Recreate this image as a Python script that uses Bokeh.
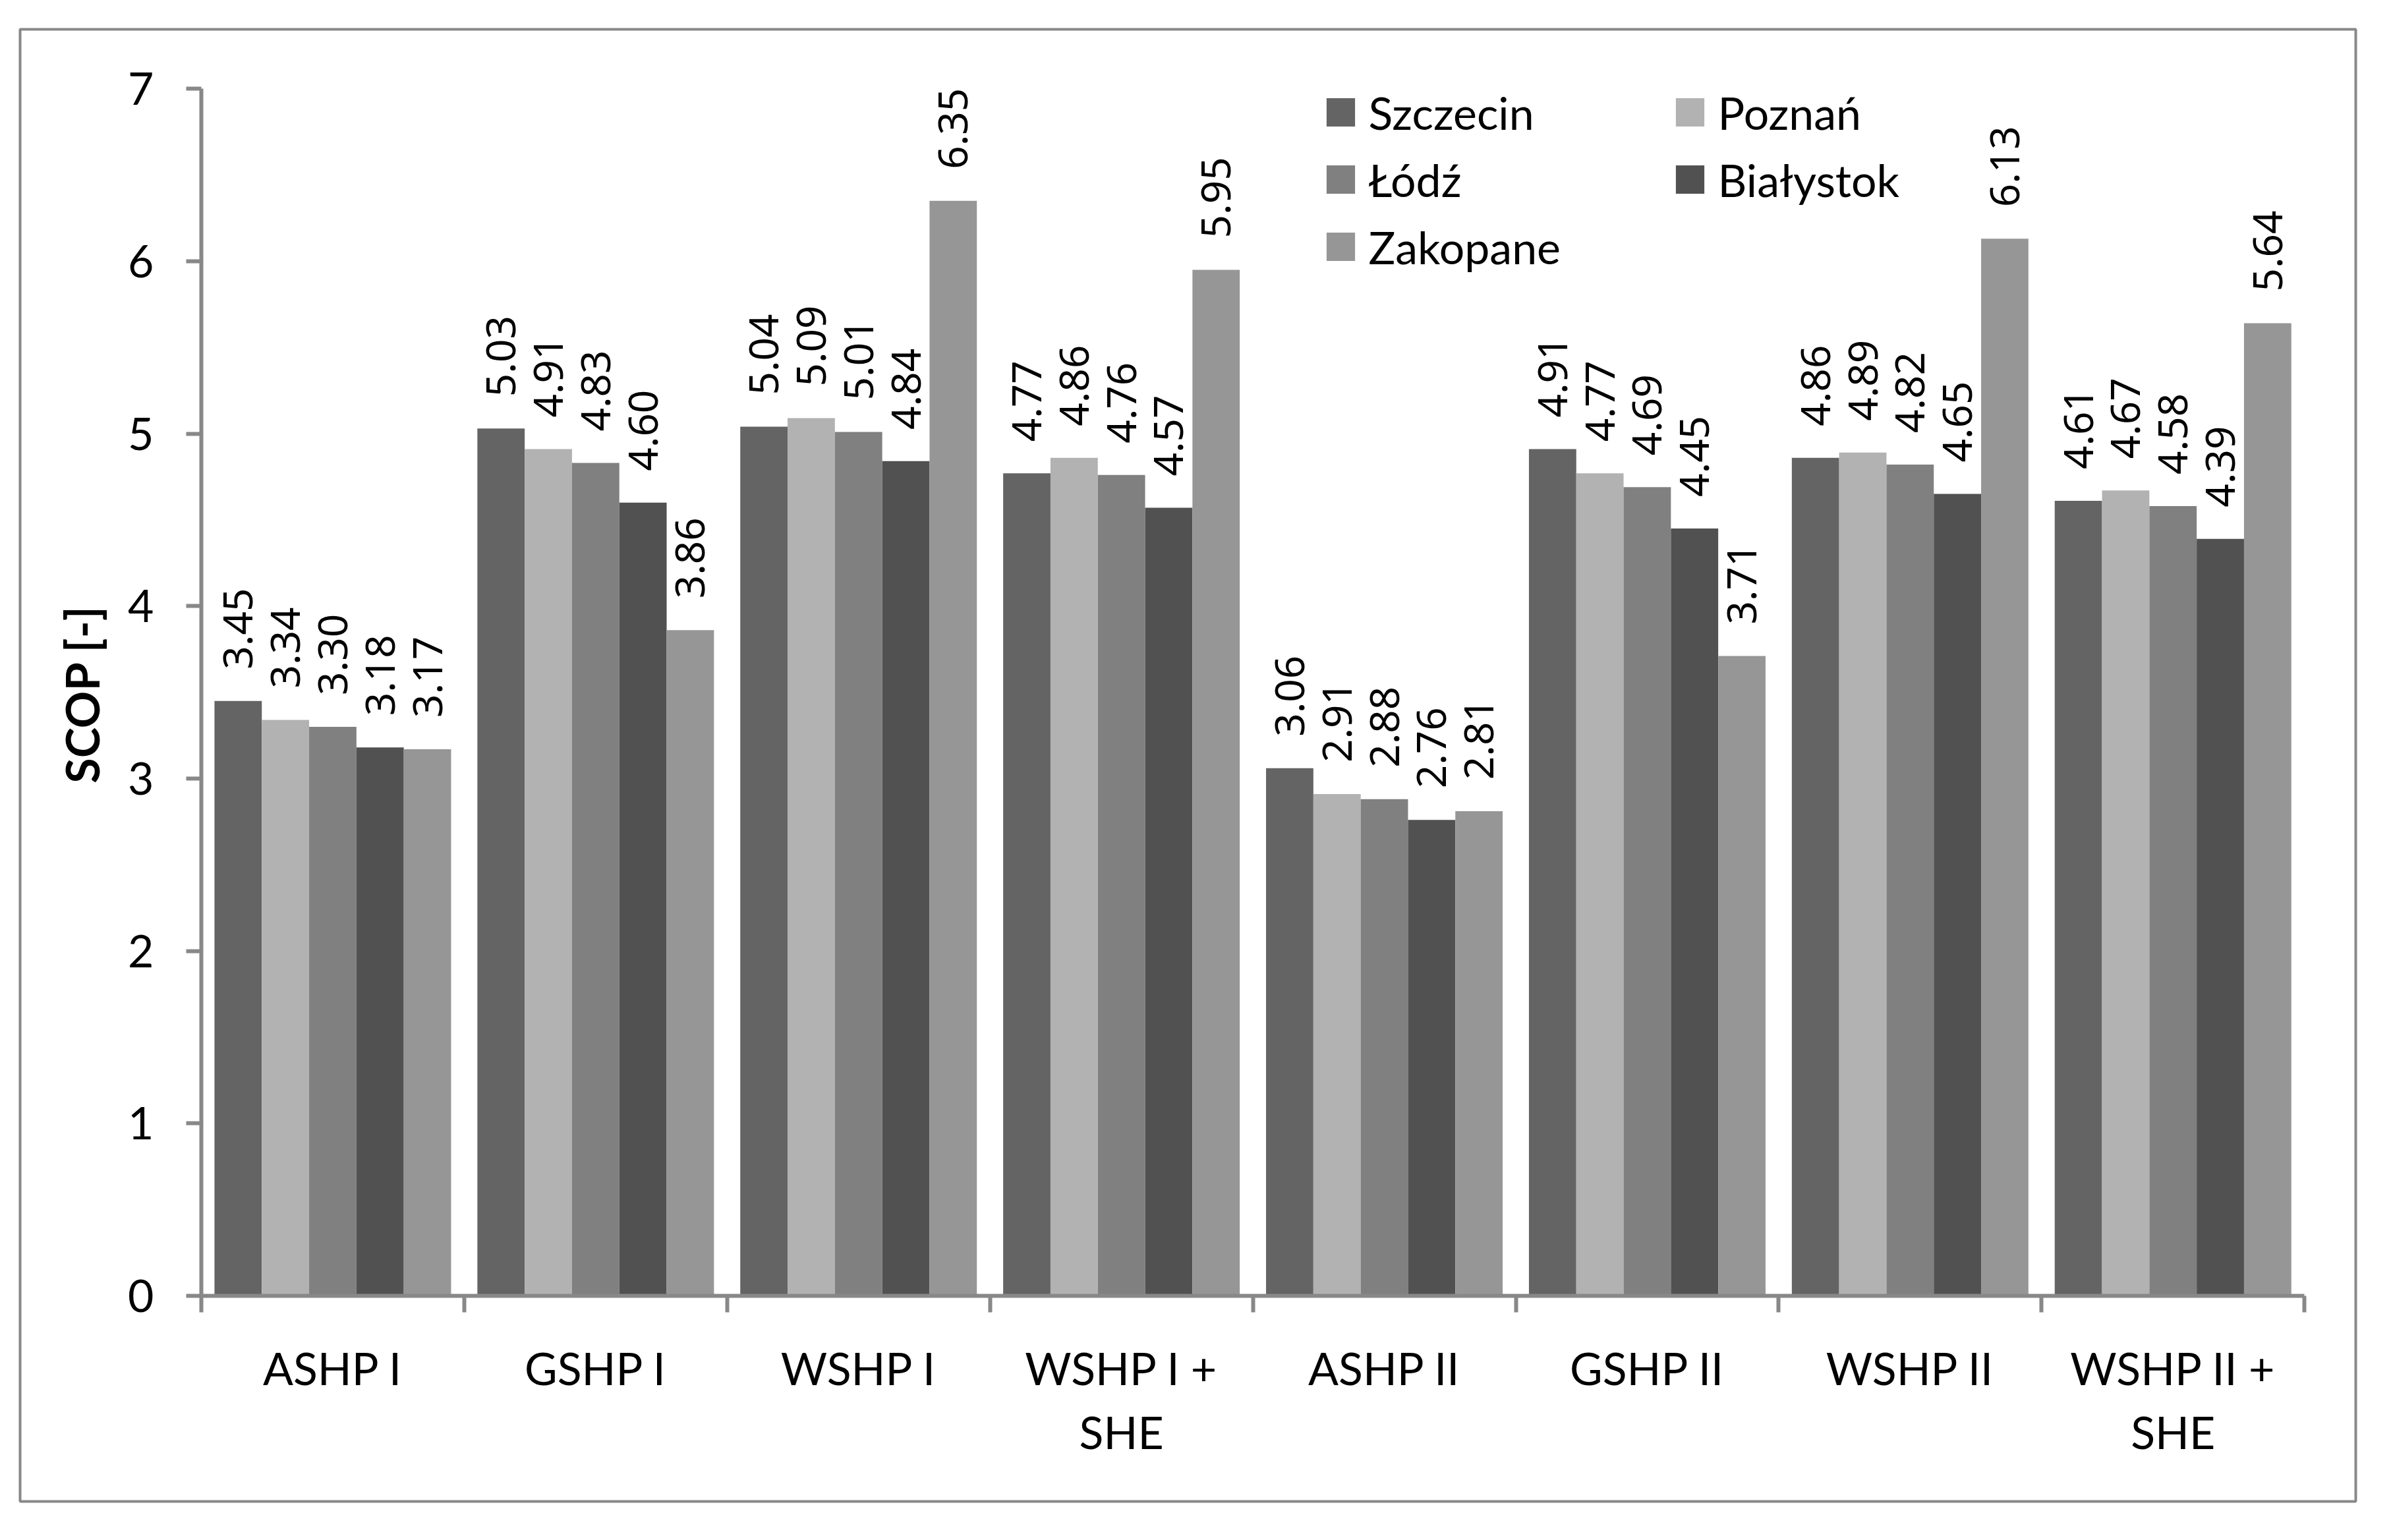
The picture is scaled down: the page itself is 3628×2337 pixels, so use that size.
import numpy as np
from math import pi
from bokeh.plotting import figure
from bokeh.models import (ColumnDataSource, Range1d, LinearAxis, FixedTicker, LabelSet,
                          Label, Legend, LegendItem)
from bokeh.embed import file_html
from bokeh.resources import INLINE
from bokeh.core.properties import value

# ---------------- data ----------------
categories = ["ASHP I", "GSHP I", "WSHP I", "WSHP I +\nSHE",
              "ASHP II", "GSHP II", "WSHP II", "WSHP II +\nSHE"]
series_names = ["Szczecin", "Poznań", "Łódź", "Białystok", "Zakopane"]
szczecin = [3.45, 5.03, 5.04, 4.77, 3.06, 4.91, 4.86, 4.61]
poznan = [3.34, 4.91, 5.09, 4.86, 2.91, 4.77, 4.89, 4.67]
lodz = [3.30, 4.83, 5.01, 4.76, 2.88, 4.69, 4.82, 4.58]
bialystok = [3.18, 4.60, 4.84, 4.57, 2.76, 4.45, 4.65, 4.39]
zakopane = [3.17, 3.86, 6.35, 5.95, 2.81, 3.71, 6.13, 5.64]
y_ticks = [0, 1, 2, 3, 4, 5, 6, 7]
y_label = "SCOP [-]"

series = [szczecin, poznan, lodz, bialystok, zakopane]
colors = ["#646464", "#b2b2b2", "#808080", "#515151", "#969696"]

# ---------------- layout (window pixels) ----------------
PAGE = 0
FL, FT, FR, FB = 30, 44, 3574, 2278      # outer box (frame)
X0, XPER = 305, 398.9                    # x=0 pixel, px per category
Y0, YPER = 1966, 261.7                   # y=0 pixel, px per unit
W, H = 3600, 2310

def dx(px):
    return (px - X0) / XPER

def dy(py):
    return (Y0 - py) / YPER

p = figure(width=W, height=H, output_backend="svg", toolbar_location=None,
           x_range=Range1d(dx(FL), dx(FR)), y_range=Range1d(dy(FB), dy(FT)),
           x_axis_type=None, y_axis_type=None,
           min_border_left=FL - PAGE, min_border_top=FT - PAGE,
           min_border_right=W - (FR - PAGE), min_border_bottom=H - (FB - PAGE))
p.outline_line_color = "#888888"
p.outline_line_width = 4
p.background_fill_color = "white"
p.border_fill_color = "white"

AX = "#888888"
n = len(categories)
idx = np.arange(n)
bw = 0.18

yax = LinearAxis(fixed_location=0, bounds=(0, 7),
                 ticker=FixedTicker(ticks=y_ticks, minor_ticks=[]),
                 axis_line_color=AX, axis_line_width=6,
                 major_tick_line_color=AX, major_tick_line_width=6,
                 major_tick_out=23, major_tick_in=0,
                 minor_tick_line_color=None,
                 major_label_standoff=49,
                 major_label_text_font="Lato", major_label_text_font_size="68px",
                 major_label_text_color="black")
p.add_layout(yax, "left")

xax = LinearAxis(fixed_location=0, bounds=(0, n),
                 ticker=FixedTicker(ticks=list(idx + 0.5), minor_ticks=list(range(n + 1))),
                 axis_line_color=AX, axis_line_width=6,
                 major_tick_line_color=None, major_tick_out=0, major_tick_in=0,
                 minor_tick_line_color=AX, minor_tick_line_width=6,
                 minor_tick_out=25, minor_tick_in=0,
                 major_label_overrides={float(i + 0.5): c for i, c in enumerate(categories)},
                 major_label_standoff=43,
                 major_label_text_font="Lato", major_label_text_font_size="68px",
                 major_label_text_color="black",
                 major_label_text_line_height=1.2)
p.add_layout(xax, "below")

renderers = []
for j, (name, vals, col) in enumerate(zip(series_names, series, colors)):
    xs = idx + 0.5 + (j - 2) * bw
    src = ColumnDataSource(dict(x=xs, top=vals, lab=[f"{v:.2f}" for v in vals]))
    r = p.vbar(x="x", top="top", bottom=0, width=bw, source=src,
               fill_color=col, line_color=None)
    renderers.append(r)
    p.add_layout(LabelSet(x="x", y="top", text="lab", source=src, angle=pi / 2,
                          y_offset=48, text_align="left", text_baseline="middle",
                          text_font=value("Noto Sans"), text_font_size="62px",
                          text_color="black"))

p.add_layout(Label(x=dx(123), y=dy(1053), text=y_label, angle=pi / 2,
                   text_align="center", text_baseline="middle",
                   text_font="Lato", text_font_style="bold", text_font_size="70px",
                   text_color="black"))

ITEM_H = 82
SPACING = 20
GLYPH = 54
def make_legend(ids, glyph_px_left, center_first_py):
    top = center_first_py - ITEM_H / 2
    height = len(ids) * ITEM_H + (len(ids) - 1) * SPACING
    bottom = top + height
    leg = Legend(items=[LegendItem(label=series_names[i], renderers=[renderers[i]]) for i in ids],
                 location=(glyph_px_left - 0.1 * GLYPH - FL, FB - bottom),
                 orientation="vertical", glyph_width=GLYPH, glyph_height=GLYPH,
                 label_height=ITEM_H, label_standoff=16, spacing=SPACING,
                 padding=0, margin=0, border_line_color=None, background_fill_alpha=0,
                 label_text_font="Lato", label_text_font_size="68px",
                 label_text_color="black")
    return leg

p.add_layout(make_legend([0, 2, 4], 2012, 170))
p.add_layout(make_legend([1, 3], 2542, 170))

open("out.html", "w").write(file_html(p, INLINE))
